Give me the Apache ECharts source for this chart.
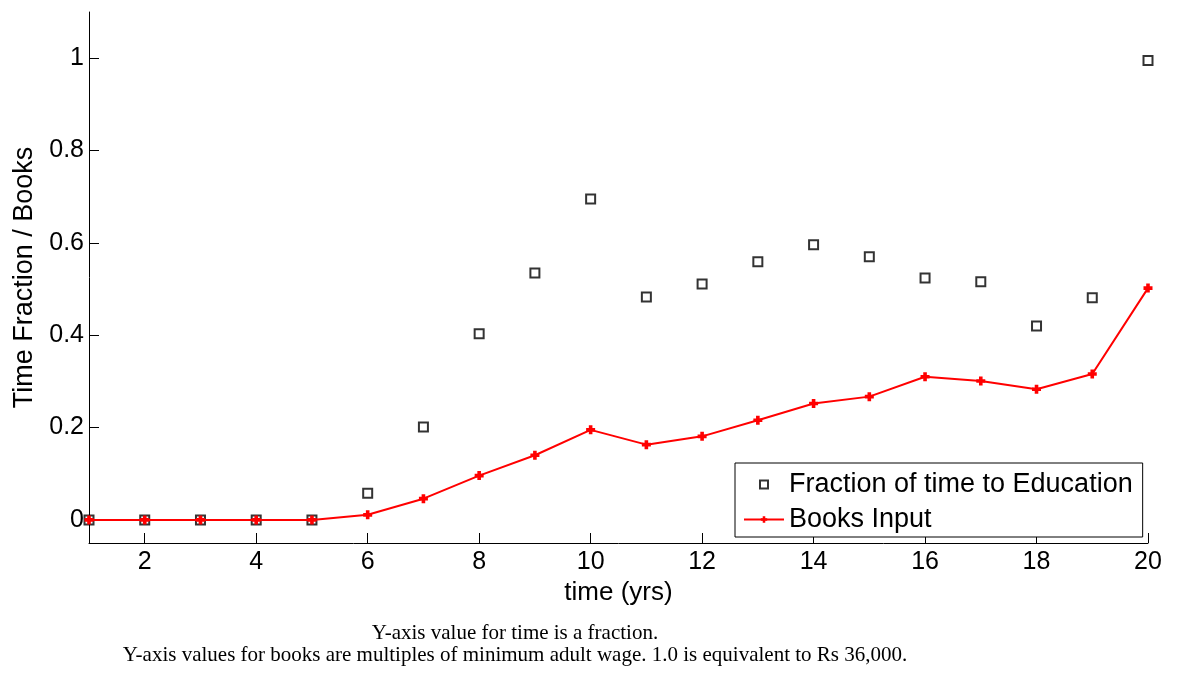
<!DOCTYPE html>
<html>
<head>
<meta charset="utf-8">
<script src="https://cdn.jsdelivr.net/npm/echarts@6/dist/echarts.min.js"></script>
<style>
html,body{margin:0;padding:0;background:#fff;}
#chart{width:1177px;height:673px;}
</style>
</head>
<body>
<div id="chart"></div>
<script>
// ---- data ----
const years = [1,2,3,4,5,6,7,8,9,10,11,12,13,14,15,16,17,18,19,20];
const fractionTime = [0,0,0,0,0,0.058,0.201,0.403,0.535,0.695,0.483,0.511,0.559,0.596,0.570,0.524,0.516,0.420,0.481,0.995];
const booksInput = [0,0,0,0,0,0.011,0.046,0.096,0.140,0.195,0.163,0.181,0.216,0.252,0.267,0.310,0.301,0.283,0.316,0.502];
const xTicks = [2,4,6,8,10,12,14,16,18,20];
const yTicks = [0,0.2,0.4,0.6,0.8,1];
const seriesNames = ['Fraction of time to Education','Books Input'];
const xTitle = 'time (yrs)';
const yTitle = 'Time Fraction / Books';
const captionLines = [
  'Y-axis value for time is a fraction.',
  'Y-axis values for books are multiples of minimum adult wage. 1.0 is equivalent to Rs 36,000.'
];

const SANS = 'Liberation Sans, Arial, Helvetica, sans-serif';
const SERIF = 'Liberation Serif, Times New Roman, serif';
const PLUS = 'path://M3,0H7V3H10V7H7V10H3V7H0V3H3Z';
const SQUARE = 'path://M0,0H10V10H0Z';

const chart = echarts.init(document.getElementById('chart'), null, {renderer:'canvas'});
const pair = (xs, ys) => xs.map((x,i)=>[x, ys[i]]);

const option = {
  backgroundColor:'#fff',
  animation:false,
  grid:{left:89, right:29, top:12, bottom:130},
  xAxis:{
    type:'value', min:1, max:20,
    name:xTitle, nameLocation:'middle', nameGap:36,
    nameTextStyle:{fontFamily:SANS, fontSize:26, color:'#000'},
    axisLine:{show:true, onZero:false, lineStyle:{color:'#000', width:1}},
    axisTick:{show:true, inside:true, length:10, customValues:xTicks, lineStyle:{color:'#000'}},
    axisLabel:{show:true, customValues:xTicks, margin:7, fontFamily:SANS, fontSize:25, color:'#000'},
    splitLine:{show:false}
  },
  yAxis:{
    type:'value', min:-0.05, max:1.1,
    name:yTitle, nameLocation:'middle', nameGap:50,
    nameTextStyle:{fontFamily:SANS, fontSize:27, color:'#000'},
    axisLine:{show:true, onZero:false, lineStyle:{color:'#000', width:1}},
    axisTick:{show:true, inside:true, length:10, customValues:yTicks, lineStyle:{color:'#000'}},
    axisLabel:{show:true, customValues:yTicks, margin:5, fontFamily:SANS, fontSize:25, color:'#000'},
    splitLine:{show:false}
  },
  legend:{
    orient:'vertical', left:735, top:463,
    padding:[8,10,4,8], itemGap:8, itemWidth:40, itemHeight:8,
    symbolKeepAspect:true,
    borderColor:'#000', borderWidth:1, backgroundColor:'#fff', borderRadius:0,
    textStyle:{fontFamily:SANS, fontSize:27, color:'#000'},
    data:[
      {name:seriesNames[0], icon:SQUARE, itemStyle:{color:'#fff', borderColor:'#000', borderWidth:2}},
      {name:seriesNames[1]}
    ]
  },
  series:[
    {
      name:seriesNames[0], type:'scatter', clip:false,
      symbol:'rect', symbolSize:9,
      itemStyle:{color:'#fff', borderColor:'#000', borderWidth:2},
      data:pair(years, fractionTime), z:2
    },
    {
      name:seriesNames[1], type:'line', clip:false,
      symbol:PLUS, symbolSize:9, showAllSymbol:true,
      lineStyle:{color:'#ff0000', width:2},
      itemStyle:{color:'#ff0000', borderWidth:0},
      data:pair(years, booksInput), z:3
    }
  ],
  graphic:[
    {type:'text', style:{text:captionLines[0], x:515, y:633, textAlign:'center', textVerticalAlign:'middle', fontFamily:SERIF, fontSize:21, fill:'#000'}},
    {type:'text', style:{text:captionLines[1], x:515, y:655, textAlign:'center', textVerticalAlign:'middle', fontFamily:SERIF, fontSize:21, fill:'#000'}}
  ]
};
chart.setOption(option);
</script>
</body>
</html>
